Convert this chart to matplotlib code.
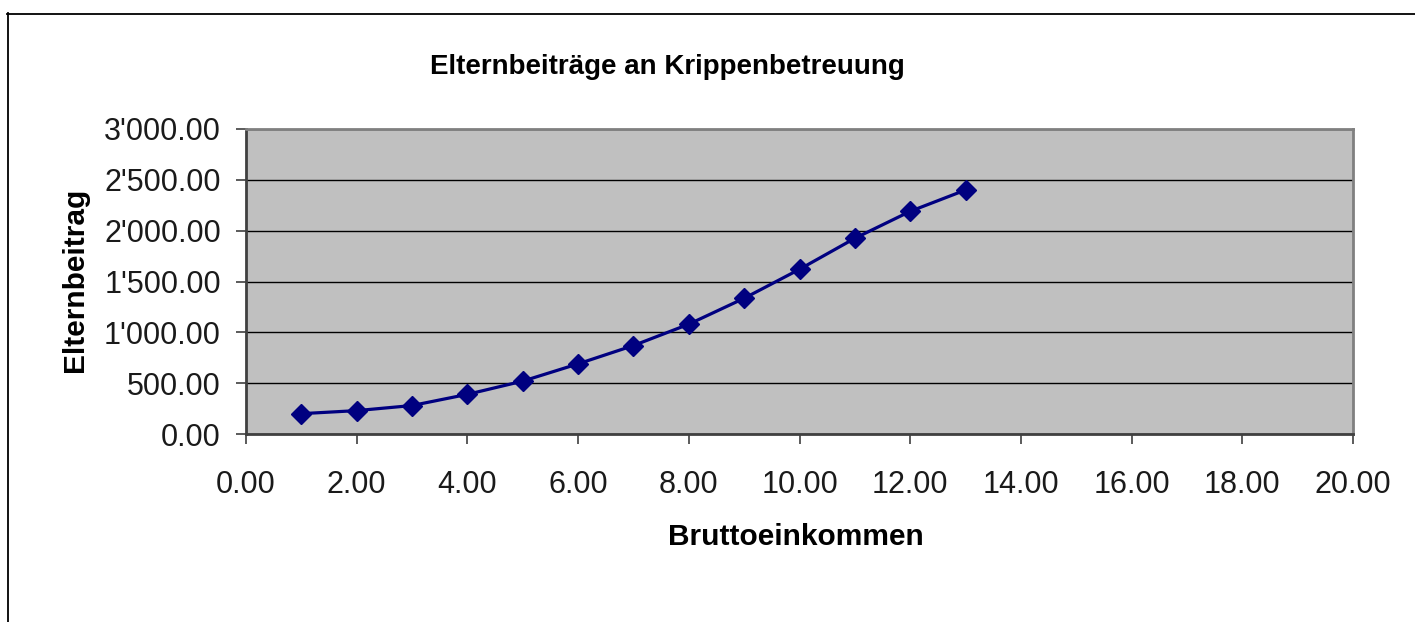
import matplotlib
matplotlib.use("Agg")
import matplotlib.pyplot as plt
from matplotlib.lines import Line2D
from matplotlib.ticker import FuncFormatter, MultipleLocator

# data
einkommen = [1, 2, 3, 4, 5, 6, 7, 8, 9, 10, 11, 12, 13]
beitrag = [200, 230, 280, 390, 520, 690, 870, 1080, 1335, 1620, 1925, 2190, 2400]

title = "Elternbeiträge an Krippenbetreuung"
xlabel = "Bruttoeinkommen"
ylabel = "Elternbeitrag"

W, H = 1415, 622
plt.rcParams['font.family'] = ['Liberation Sans', 'DejaVu Sans']

fig = plt.figure(figsize=(W / 100, H / 100), dpi=100)
ax = fig.add_axes([246 / W, 1 - 434 / H, (1353 - 246) / W, (434 - 129) / H])

ax.set_facecolor('#C0C0C0')
ax.plot(einkommen, beitrag, color='#000080', lw=2.3, marker='D', ms=10,
        markerfacecolor='#000080', markeredgecolor='#000080', zorder=3)

ax.set_xlim(0, 20)
ax.set_ylim(0, 3000)
ax.xaxis.set_major_locator(MultipleLocator(2))
ax.yaxis.set_major_locator(MultipleLocator(500))


def swiss(v, pos):
    s = f"{v:,.2f}"
    return s.replace(",", "'")


ax.xaxis.set_major_formatter(FuncFormatter(swiss))
ax.yaxis.set_major_formatter(FuncFormatter(swiss))
ax.grid(axis='y', color='black', lw=1)
ax.set_axisbelow(True)

for s in ax.spines.values():
    s.set_color('#808080')
    s.set_linewidth(2)
ax.spines['left'].set_color('#404040')
ax.spines['bottom'].set_color('#404040')

ax.tick_params(axis='both', direction='out', length=7, width=1.2,
               color='#404040', labelsize=22, labelcolor='#1a1a1a')
ax.tick_params(axis='y', pad=11)
ax.tick_params(axis='x', pad=19)

fig.text(667 / W, 1 - 67 / H, title, ha='center', va='center',
         fontsize=20, fontweight='bold')
fig.text(796 / W, 1 - 537 / H, xlabel, ha='center', va='center',
         fontsize=21.5, fontweight='bold')
fig.text(75 / W, 1 - 280 / H, ylabel, ha='center', va='center',
         fontsize=21.5, fontweight='bold', rotation=90)

# outer chart frame
fig.add_artist(Line2D([7.5 / W, 7.5 / W], [0, 1 - 13 / H], color='black', lw=1.3))
fig.add_artist(Line2D([7 / W, 1], [1 - 13.5 / H, 1 - 13.5 / H], color='black', lw=1.3))

fig.savefig("out.png", dpi=100, facecolor='white')
